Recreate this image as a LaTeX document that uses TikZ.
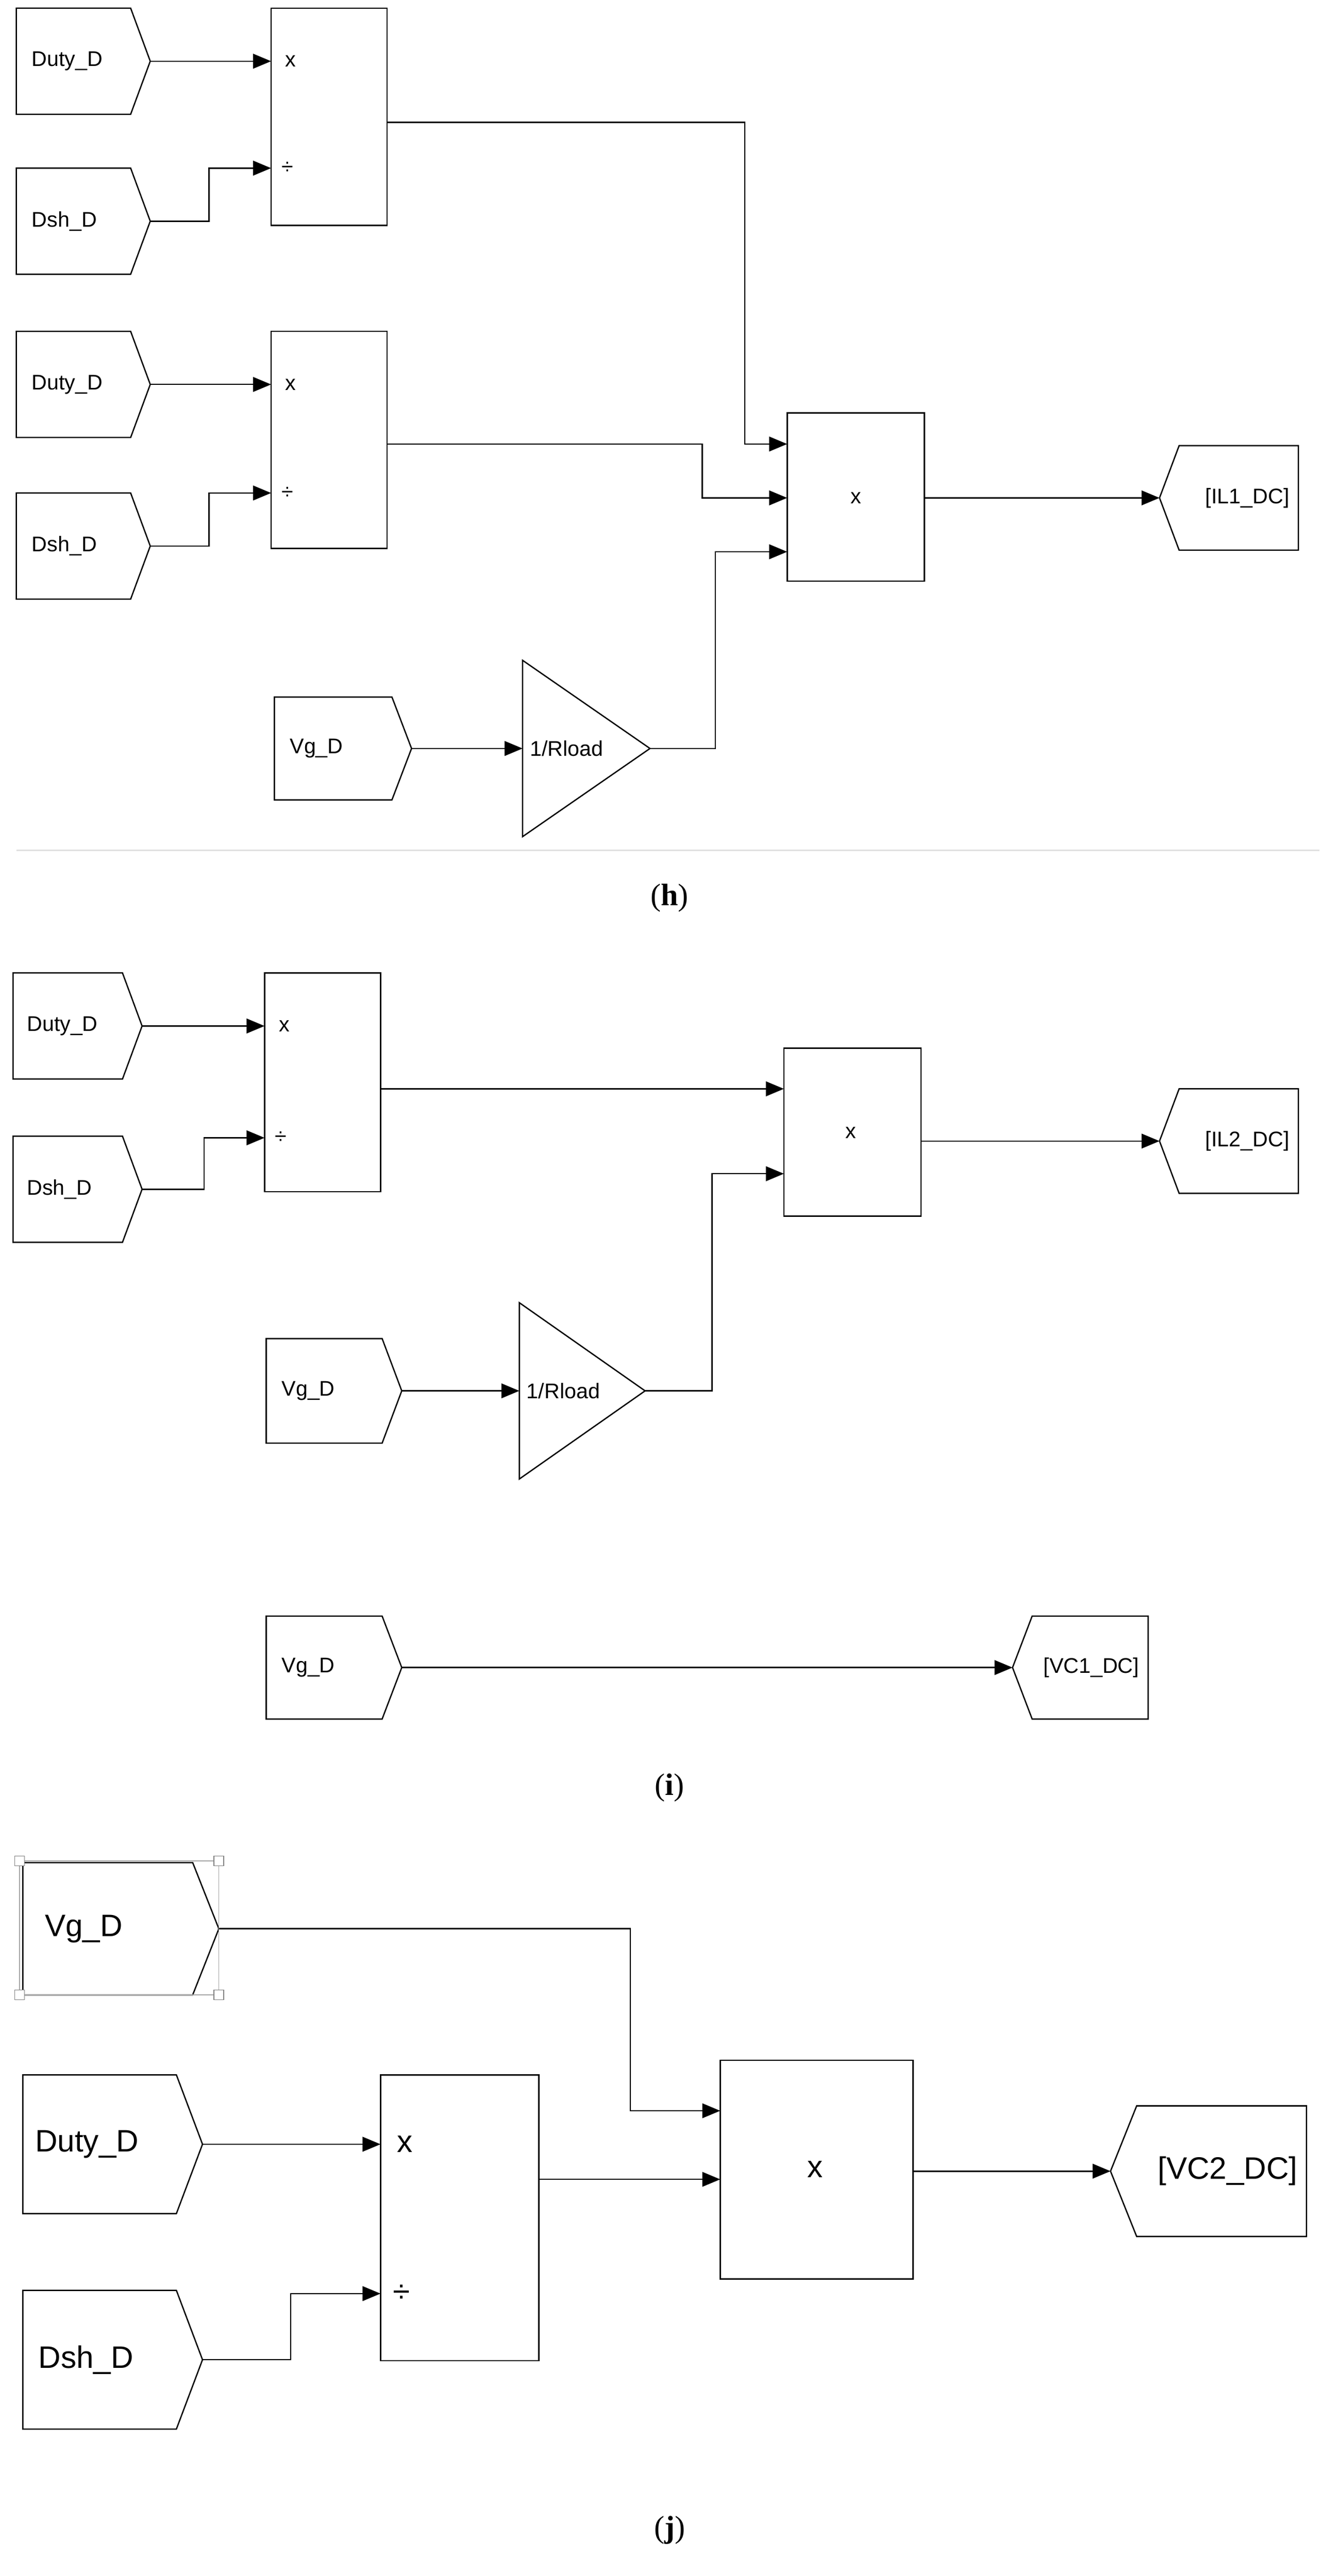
\documentclass[tikz,border=0pt]{standalone}
\usepackage{fontspec}
\setmainfont{Liberation Sans}
\newfontfamily\capfont{Liberation Serif}
\usetikzlibrary{arrows.meta}
\tikzset{
 wire/.style={line width=0.8pt,-{Triangle[length=11pt,width=9pt]}},
 blk/.style={draw,line width=0.8pt},
 sm/.style={font=\fontsize{13}{13}\selectfont},
 lg/.style={font=\fontsize{19}{19}\selectfont},
}
% from-block pointing right: name, x1,y1,x2,y2, tip, text, style
\newcommand\fromblk[9]{%
 \draw[blk] (#2,#3)--(#4-#6,#3)--(#4,{(#3+#5)/2})--(#4-#6,#5)--(#2,#5)--cycle;
 \node[#8,anchor=west] (#1) at (#2+#9,{(#3+#5)/2}) {#7};
 \coordinate (#1o) at (#4,{(#3+#5)/2});}
% goto-block pointing left
\newcommand\gotoblk[8]{%
 \draw[blk] (#2,{(#3+#5)/2})--(#2+#6,#3)--(#4,#3)--(#4,#5)--(#2+#6,#5)--cycle;
 \node[#8,anchor=east] (#1) at (#4-2,{(#3+#5)/2}) {#7};
 \coordinate (#1i) at (#2,{(#3+#5)/2});}
\begin{document}
\begin{tikzpicture}[x=1pt,y=-1pt]
\useasboundingbox (0,0) rectangle (819,1578);
\fill[white] (0,0) rectangle (819,1578);
% ===== (h)
\fromblk{hd1}{10}{5}{92}{70}{12}{Duty\_D}{sm}{6}
\fromblk{hs1}{10}{103}{92}{168}{12}{Dsh\_D}{sm}{6}
\fromblk{hd2}{10}{203}{92}{268}{12}{Duty\_D}{sm}{6}
\fromblk{hs2}{10}{302}{92}{367}{12}{Dsh\_D}{sm}{6}
\fromblk{hv}{168}{427}{252}{490}{12}{Vg\_D}{sm}{6}
\gotoblk{hg}{710}{273}{795}{337}{12}{[IL1\_DC]}{sm}
\draw[blk] (166,5) rectangle (237,138); \node[sm] (hp1a) at (178,37.5) {x}; \node[sm] (hp1b) at (176,103) {÷};
\draw[blk] (166,203) rectangle (237,336); \node[sm] (hp2a) at (178,235.5) {x}; \node[sm] (hp2b) at (176,302) {÷};
\draw[blk] (482,253) rectangle (566,356); \node[sm] (hp3) at (524,305) {x};
\draw[blk] (320,404.5)--(398,458.5)--(320,512.5)--cycle; \node[sm,anchor=west] (hk) at (321,458.5) {1/Rload};
\coordinate (h1o) at (237,75); \coordinate (h2o) at (237,272); \coordinate (hko) at (398,458.5);
\draw[wire] (hd1o)--(166,37.5);
\draw[wire] (hs1o)--(128,135.5)--(128,103)--(166,103);
\draw[wire] (hd2o)--(166,235.5);
\draw[wire] (hs2o)--(128,334.5)--(128,302)--(166,302);
\draw[wire] (h1o)--(456,75)--(456,272)--(482,272);
\draw[wire] (h2o)--(430,272)--(430,305)--(482,305);
\draw[wire] (hko)--(438,458.5)--(438,338)--(482,338);
\draw[wire] (hvo)--(320,458.5);
\draw[wire] (566,305)--(hgi);
\draw[black!12,line width=1pt] (10,521)--(808,521);
\node[font=\capfont\fontsize{19}{19}\selectfont] (ch) at (410,550) {(\textbf{h})};
% ===== (i)
\fromblk{id1}{8}{596}{87}{661}{12}{Duty\_D}{sm}{5}
\fromblk{is1}{8}{696}{87}{761}{12}{Dsh\_D}{sm}{5}
\fromblk{iv1}{163}{820}{246}{884}{12}{Vg\_D}{sm}{6}
\fromblk{iv2}{163}{990}{246}{1053}{12}{Vg\_D}{sm}{6}
\gotoblk{ig1}{710}{667}{795}{731}{12}{[IL2\_DC]}{sm}
\gotoblk{ig2}{620}{990}{703}{1053}{12}{[VC1\_DC]}{sm}
\draw[blk] (162,596) rectangle (233,730); \node[sm] (ip1a) at (174,628.5) {x}; \node[sm] (ip1b) at (172,697) {÷};
\draw[blk] (480,642) rectangle (564,745); \node[sm] (ip2) at (521,694) {x};
\draw[blk] (318,798)--(395,852)--(318,906)--cycle; \node[sm,anchor=west] (ik) at (319,852) {1/Rload};
\draw[wire] (id1o)--(162,628.5);
\draw[wire] (is1o)--(125,728.5)--(125,697)--(162,697);
\draw[wire] (233,667)--(480,667);
\draw[wire] (395,852)--(436,852)--(436,719)--(480,719);
\draw[wire] (iv1o)--(318,852);
\draw[wire] (564,699)--(ig1i);
\draw[wire] (iv2o)--(ig2i);
\node[font=\capfont\fontsize{19}{19}\selectfont] (ci) at (410,1095) {(\textbf{i})};
% ===== (j)
\fromblk{jv}{14}{1141}{134}{1222}{16}{Vg\_D}{lg}{10}
\fromblk{jd}{14}{1271}{124}{1356}{16}{Duty\_D}{lg}{4}
\fromblk{js}{14}{1403}{124}{1488}{16}{Dsh\_D}{lg}{6}
\gotoblk{jg}{680}{1290}{800}{1370}{16}{[VC2\_DC]}{lg}
\draw[black!35,line width=0.5pt] (12,1140) rectangle (134,1222);
\foreach \p in {(12,1140),(134,1140),(12,1222),(134,1222)} \draw[black!50,fill=white] \p ++(-3,-3) rectangle ++(6,6);
\draw[blk] (233,1271) rectangle (330,1446); \node[lg] (jp1a) at (248,1313.5) {x}; \node[lg] (jp1b) at (246,1405) {÷};
\draw[blk] (441,1262) rectangle (559,1396); \node[lg] (jp2) at (499,1329) {x};
\draw[wire] (jvo)--(386,1181.5)--(386,1293)--(441,1293);
\draw[wire] (jdo)--(233,1313.5);
\draw[wire] (jso)--(178,1445.5)--(178,1405)--(233,1405);
\draw[wire] (330,1335)--(441,1335);
\draw[wire] (559,1330)--(jgi);
\node[font=\capfont\fontsize{19}{19}\selectfont] (cj) at (410,1550) {(\textbf{j})};
\end{tikzpicture}
\end{document}
